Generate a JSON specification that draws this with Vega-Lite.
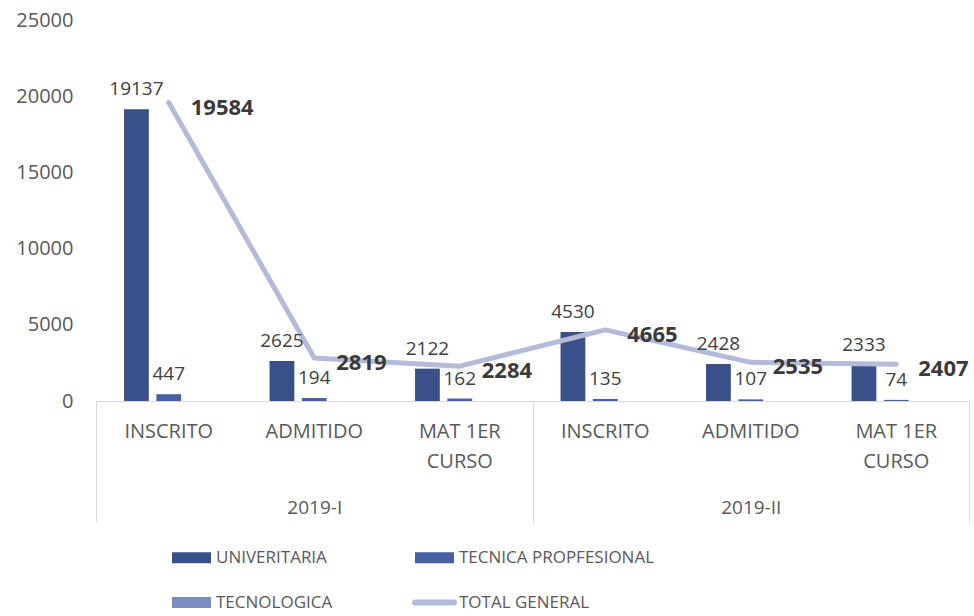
{
  "$schema": "https://vega.github.io/schema/vega-lite/v6.json",
  "width": 873,
  "height": 381,
  "padding": {"left": 15, "top": 10, "right": 4, "bottom": 0},
  "background": "white",
  "config": {"view": {"stroke": null}, "font": "Open Sans"},
  "data": {
    "values": [
      {"period": "2019-I", "category": "INSCRITO", "key": "2019-I|INSCRITO", "serie": "UNIVERITARIA", "value": 19137},
      {"period": "2019-I", "category": "INSCRITO", "key": "2019-I|INSCRITO", "serie": "TECNICA PROPFESIONAL", "value": 447},
      {"period": "2019-I", "category": "INSCRITO", "key": "2019-I|INSCRITO", "serie": "TECNOLOGICA", "value": 0},
      {"period": "2019-I", "category": "INSCRITO", "key": "2019-I|INSCRITO", "serie": "TOTAL GENERAL", "value": 19584},
      {"period": "2019-I", "category": "ADMITIDO", "key": "2019-I|ADMITIDO", "serie": "UNIVERITARIA", "value": 2625},
      {"period": "2019-I", "category": "ADMITIDO", "key": "2019-I|ADMITIDO", "serie": "TECNICA PROPFESIONAL", "value": 194},
      {"period": "2019-I", "category": "ADMITIDO", "key": "2019-I|ADMITIDO", "serie": "TECNOLOGICA", "value": 0},
      {"period": "2019-I", "category": "ADMITIDO", "key": "2019-I|ADMITIDO", "serie": "TOTAL GENERAL", "value": 2819},
      {"period": "2019-I", "category": "MAT 1ER CURSO", "key": "2019-I|MAT 1ER CURSO", "serie": "UNIVERITARIA", "value": 2122},
      {"period": "2019-I", "category": "MAT 1ER CURSO", "key": "2019-I|MAT 1ER CURSO", "serie": "TECNICA PROPFESIONAL", "value": 162},
      {"period": "2019-I", "category": "MAT 1ER CURSO", "key": "2019-I|MAT 1ER CURSO", "serie": "TECNOLOGICA", "value": 0},
      {"period": "2019-I", "category": "MAT 1ER CURSO", "key": "2019-I|MAT 1ER CURSO", "serie": "TOTAL GENERAL", "value": 2284},
      {"period": "2019-II", "category": "INSCRITO", "key": "2019-II|INSCRITO", "serie": "UNIVERITARIA", "value": 4530},
      {"period": "2019-II", "category": "INSCRITO", "key": "2019-II|INSCRITO", "serie": "TECNICA PROPFESIONAL", "value": 135},
      {"period": "2019-II", "category": "INSCRITO", "key": "2019-II|INSCRITO", "serie": "TECNOLOGICA", "value": 0},
      {"period": "2019-II", "category": "INSCRITO", "key": "2019-II|INSCRITO", "serie": "TOTAL GENERAL", "value": 4665},
      {"period": "2019-II", "category": "ADMITIDO", "key": "2019-II|ADMITIDO", "serie": "UNIVERITARIA", "value": 2428},
      {"period": "2019-II", "category": "ADMITIDO", "key": "2019-II|ADMITIDO", "serie": "TECNICA PROPFESIONAL", "value": 107},
      {"period": "2019-II", "category": "ADMITIDO", "key": "2019-II|ADMITIDO", "serie": "TECNOLOGICA", "value": 0},
      {"period": "2019-II", "category": "ADMITIDO", "key": "2019-II|ADMITIDO", "serie": "TOTAL GENERAL", "value": 2535},
      {"period": "2019-II", "category": "MAT 1ER CURSO", "key": "2019-II|MAT 1ER CURSO", "serie": "UNIVERITARIA", "value": 2333},
      {"period": "2019-II", "category": "MAT 1ER CURSO", "key": "2019-II|MAT 1ER CURSO", "serie": "TECNICA PROPFESIONAL", "value": 74},
      {"period": "2019-II", "category": "MAT 1ER CURSO", "key": "2019-II|MAT 1ER CURSO", "serie": "TECNOLOGICA", "value": 0},
      {"period": "2019-II", "category": "MAT 1ER CURSO", "key": "2019-II|MAT 1ER CURSO", "serie": "TOTAL GENERAL", "value": 2407}
    ]
  },
  "layer": [
    {
      "encoding": {
        "x": {
          "field": "key",
          "type": "nominal",
          "sort": ["2019-I|INSCRITO", "2019-I|ADMITIDO", "2019-I|MAT 1ER CURSO", "2019-II|INSCRITO", "2019-II|ADMITIDO", "2019-II|MAT 1ER CURSO"],
          "scale": {"paddingInner": 0, "paddingOuter": 0},
          "axis": {
            "title": null,
            "domainColor": "#D9D9D9",
            "domainWidth": 1,
            "ticks": false,
            "labelAngle": 0,
            "labelExpr": "split(datum.value, '|')[1] === 'MAT 1ER CURSO' ? ['MAT 1ER', 'CURSO'] : split(datum.value, '|')[1]",
            "labelFontSize": 20,
            "labelColor": "#595959",
            "labelPadding": 20,
            "labelLineHeight": 30,
            "labelOverlap": false,
            "labelFont": "Open Sans"
          }
        },
        "y": {
          "field": "value",
          "type": "quantitative",
          "scale": {"domain": [0, 25000]},
          "axis": {
            "title": null,
            "values": [0, 5000, 10000, 15000, 20000, 25000],
            "format": "d",
            "grid": false,
            "domain": false,
            "ticks": false,
            "labelPadding": 23,
            "labelFontSize": 20,
            "labelColor": "#595959",
            "labelFont": "Open Sans"
          }
        }
      },
      "layer": [
        {
          "transform": [{"filter": "datum.serie !== 'TOTAL GENERAL'"}],
          "mark": {"type": "bar"},
          "encoding": {
            "xOffset": {
              "field": "serie",
              "type": "nominal",
              "sort": ["UNIVERITARIA", "TECNICA PROPFESIONAL", "TECNOLOGICA"],
              "scale": {"paddingInner": 0.233, "paddingOuter": 0.868}
            },
            "color": {
              "field": "serie",
              "type": "nominal",
              "scale": {
                "domain": ["UNIVERITARIA", "TECNICA PROPFESIONAL", "TECNOLOGICA", "TOTAL GENERAL"],
                "range": ["#3A5089", "#4660A3", "#7B8CBE", "#B4BBD8"]
              },
              "legend": {
                "title": null,
                "orient": "none",
                "direction": "horizontal",
                "legendX": 87,
                "legendY": 529,
                "columns": 2,
                "columnPadding": 70,
                "rowPadding": 24,
                "symbolSize": 1521,
                "symbolType": "M-1,-0.28H1V0.28H-1Z",
                "symbolOpacity": 1,
                "labelFontSize": 17,
                "labelFont": "Open Sans",
                "labelColor": "#595959",
                "labelOffset": 16,
                "labelLimit": 400,
                "encode": {
                  "symbols": {
                    "update": {
                      "shape": {"signal": "datum.value === 'TOTAL GENERAL' ? 'stroke' : 'M-1,-0.28H1V0.28H-1Z'"},
                      "stroke": {"signal": "scale('color', datum.value)"},
                      "strokeWidth": {"signal": "datum.value === 'TOTAL GENERAL' ? 6 : 0"},
                      "strokeCap": {"value": "round"}
                    }
                  }
                }
              }
            }
          }
        },
        {
          "transform": [{"filter": "datum.serie === 'TOTAL GENERAL'"}],
          "mark": {"type": "line", "color": "#B4BBD8", "strokeWidth": 5, "strokeCap": "round", "strokeJoin": "round"}
        },
        {
          "transform": [{"filter": "datum.serie === 'UNIVERITARIA' || datum.serie === 'TECNICA PROPFESIONAL'"}],
          "mark": {"type": "text", "fontSize": 19, "color": "#404040", "baseline": "alphabetic", "dy": -14, "font": "Open Sans"},
          "encoding": {
            "xOffset": {"field": "serie", "type": "nominal", "sort": ["UNIVERITARIA", "TECNICA PROPFESIONAL", "TECNOLOGICA"]},
            "text": {"field": "value", "type": "quantitative", "format": "d"}
          }
        },
        {
          "transform": [{"filter": "datum.serie === 'TOTAL GENERAL'"}],
          "mark": {"type": "text", "fontSize": 22, "fontWeight": "bold", "color": "#3A3A3A", "align": "left", "baseline": "middle", "dx": 22, "dy": 5, "font": "Open Sans"},
          "encoding": {
            "text": {"field": "value", "type": "quantitative", "format": "d"}
          }
        }
      ]
    },
    {
      "mark": {"type": "rule", "opacity": 0},
      "encoding": {
        "x": {
          "field": "period",
          "type": "nominal",
          "sort": ["2019-I", "2019-II"],
          "scale": {"paddingInner": 0, "paddingOuter": 0},
          "axis": {
            "orient": "bottom",
            "title": null,
            "domain": false,
            "tickBand": "extent",
            "tickSize": 121,
            "tickColor": "#D9D9D9",
            "tickWidth": 1,
            "labelPadding": -24,
            "labelAngle": 0,
            "labelFontSize": 19,
            "labelColor": "#595959",
            "labelFont": "Open Sans"
          }
        }
      }
    }
  ],
  "resolve": {"scale": {"x": "independent"}, "axis": {"x": "independent"}}
}
